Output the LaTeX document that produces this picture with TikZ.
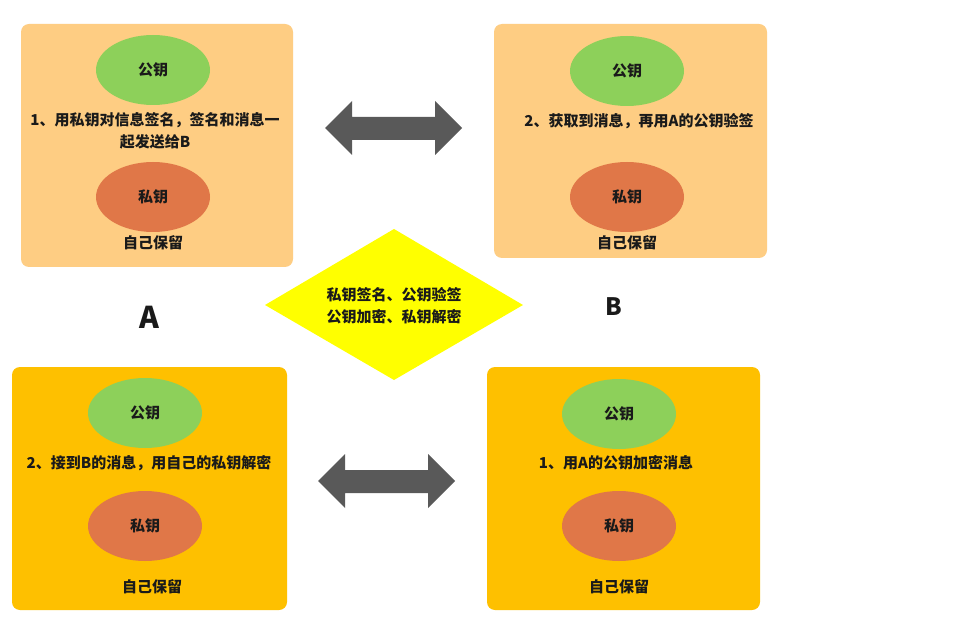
\documentclass[tikz,border=0pt]{standalone}
\usepackage{fontspec}
\newfontfamily\cjk{Noto Sans CJK SC}
\usetikzlibrary{shapes.geometric}
\definecolor{lightor}{HTML}{FECD83}
\definecolor{gold}{HTML}{FEC000}
\definecolor{keygreen}{HTML}{8DD05A}
\definecolor{keyred}{HTML}{E07748}
\definecolor{arrgray}{HTML}{595959}
\definecolor{txt}{HTML}{1A1A1A}
\definecolor{dyellow}{RGB}{255,255,0}
\tikzset{
  panel/.style={rounded corners=8pt, draw=none},
  keyell/.style={ellipse, minimum width=114pt, minimum height=70pt, inner sep=0pt, text=txt, font=\cjk\bfseries\fontsize{15}{18}\selectfont},
  pub/.style={keyell, fill=keygreen},
  priv/.style={keyell, fill=keyred},
  lbl/.style={text=txt, font=\cjk\bfseries\fontsize{15}{22}\selectfont, inner sep=0pt, align=center},
  bigl/.style={text=txt, font=\cjk\bfseries, inner sep=0pt},
  dbl/.style={fill=arrgray, draw=none}
}
\begin{document}
\begin{tikzpicture}[x=1pt,y=-1pt]
\path[use as bounding box, fill=white] (0,0) rectangle (966,628);
% panels
\fill[panel, lightor] (21,24) rectangle (293,267);
\fill[panel, lightor] (494,24) rectangle (767,258);
\fill[panel, gold] (12,367) rectangle (287,610);
\fill[panel, gold] (487,367) rectangle (760,610);
% top-left
\node[pub] (tlpub) at (153,70) {公钥};
\node[lbl] (tltxt) at (155,131) {1、用私钥对信息签名，签名和消息一\\起发送给B};
\node[priv] (tlpriv) at (153,197) {私钥};
\node[lbl] (tlkeep) at (153,243) {自己保留};
% top-right
\node[pub] (trpub) at (627,71) {公钥};
\node[lbl] (trtxt) at (639,121) {2、获取到消息，再用A的公钥验签};
\node[priv] (trpriv) at (627,197) {私钥};
\node[lbl] (trkeep) at (627,243) {自己保留};
% bottom-left
\node[pub] (blpub) at (145,413) {公钥};
\node[lbl] (bltxt) at (149,463) {2、接到B的消息，用自己的私钥解密};
\node[priv] (blpriv) at (145,526) {私钥};
\node[lbl] (blkeep) at (152,587) {自己保留};
% bottom-right
\node[pub] (brpub) at (619,414) {公钥};
\node[lbl] (brtxt) at (616,463) {1、用A的公钥加密消息};
\node[priv] (brpriv) at (619,526) {私钥};
\node[lbl] (brkeep) at (619,587) {自己保留};
% diamond
\fill[dyellow] (265,305) -- (394,229) -- (523,305) -- (394,380) -- cycle;
\node[lbl] (dtxt) at (394,306) {私钥签名、公钥验签\\公钥加密、私钥解密};
% A / B
\node[bigl, font=\cjk\bfseries\fontsize{30}{32}\selectfont] (la) at (149,317) {A};
\node[bigl, font=\cjk\bfseries\fontsize{24}{26}\selectfont] (lb) at (614,307) {B};
% double arrows
\fill[dbl] (325,128) -- (352,101) -- (352,117) -- (435,117) -- (435,101) -- (462,128) -- (435,155) -- (435,140) -- (352,140) -- (352,155) -- cycle;
\fill[dbl] (318,481) -- (345,454) -- (345,470) -- (428,470) -- (428,454) -- (455,481) -- (428,508) -- (428,493) -- (345,493) -- (345,508) -- cycle;
\end{tikzpicture}
\end{document}
